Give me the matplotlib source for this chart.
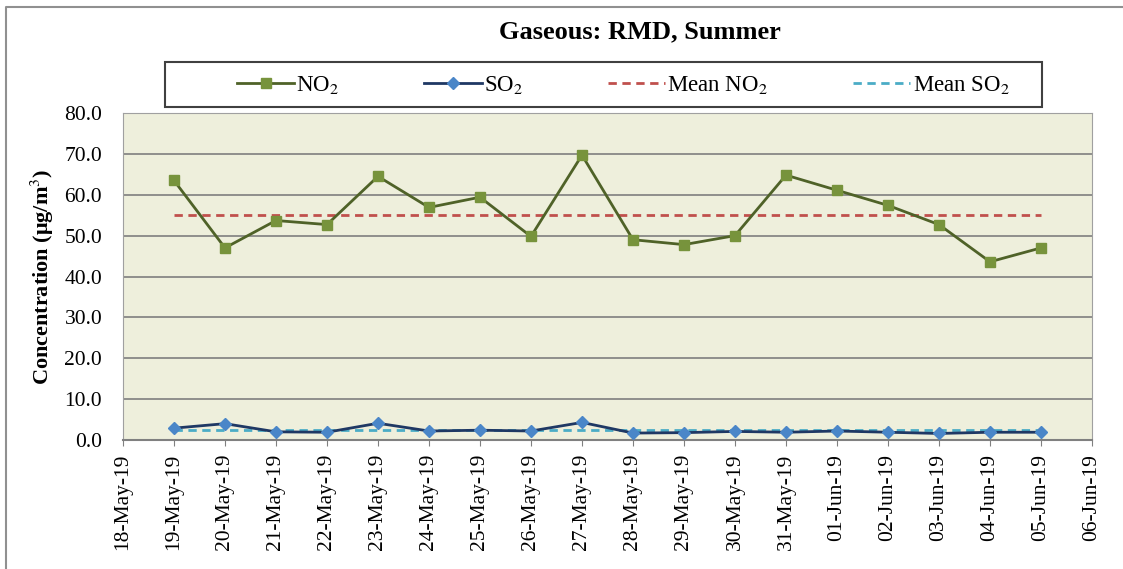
import matplotlib.pyplot as plt
from matplotlib.lines import Line2D

plt.rcParams["font.family"] = ["Liberation Serif", "DejaVu Serif"]
plt.rcParams["mathtext.fontset"] = "stix"

# tick labels along the x axis (one per day, first and last have no data)
date_labels = ["18-May-19", "19-May-19", "20-May-19", "21-May-19", "22-May-19",
               "23-May-19", "24-May-19", "25-May-19", "26-May-19", "27-May-19",
               "28-May-19", "29-May-19", "30-May-19", "31-May-19", "01-Jun-19",
               "02-Jun-19", "03-Jun-19", "04-Jun-19", "05-Jun-19", "06-Jun-19"]

# measured days are 19-May .. 05-Jun
day_index = list(range(1, 19))

no2 = [63.5, 47.0, 53.7, 52.7, 64.5, 56.9, 59.4, 49.8, 69.7,
       49.0, 47.8, 50.0, 64.8, 61.1, 57.4, 52.7, 43.6, 47.0]
so2 = [2.9, 4.0, 2.0, 1.9, 4.1, 2.2, 2.4, 2.2, 4.3,
       1.7, 1.8, 2.1, 1.9, 2.2, 1.9, 1.6, 1.9, 1.9]

mean_no2 = sum(no2) / len(no2)
mean_so2 = sum(so2) / len(so2)

fig = plt.figure(figsize=(11.23, 5.69), dpi=100)
ax = fig.add_axes([0.1095, 0.2267, 0.8629, 0.5747])
ax.set_facecolor("#EEEFDC")

ax.plot(day_index, no2, color="#4F6228", lw=2, marker="s", ms=7,
        mfc="#77933C", mec="#77933C", zorder=4)
ax.plot(day_index, so2, color="#1F3864", lw=2, marker="D", ms=6,
        mfc="#4A86C8", mec="#4A86C8", zorder=4)
ax.plot(day_index, [mean_no2] * len(day_index), color="#C0504D", lw=2,
        ls=(0, (3, 2)), zorder=3)
ax.plot(day_index, [mean_so2] * len(day_index), color="#4BACC6", lw=2,
        ls=(0, (3, 2)), zorder=3)

ax.set_xlim(0, 19)
ax.set_ylim(0, 80)
ax.set_yticks(range(0, 81, 10))
ax.set_yticklabels([f"{v:.1f}" for v in range(0, 81, 10)], fontsize=15.5)
ax.set_xticks(range(len(date_labels)))
ax.set_xticklabels(date_labels, rotation=90, fontsize=15.5)
ax.tick_params(axis="y", length=0, pad=15)
ax.tick_params(axis="x", length=4, direction="out", pad=6, color="#808080")

ax.grid(axis="y", color="#7F7F7F", lw=1.2)
ax.set_axisbelow(True)
for side in ["top", "right", "left"]:
    ax.spines[side].set_color("#A0A0A0")
ax.spines["bottom"].set_color("#808080")
ax.spines["bottom"].set_linewidth(1.5)

ax.set_ylabel("Concentration (μg/m$^3$)", fontsize=16, fontweight="bold", labelpad=6)

fig.text(0.57, 0.944, "Gaseous: RMD, Summer", ha="center", va="center",
         fontsize=19, fontweight="bold")

handles = [
    Line2D([], [], color="#4F6228", lw=2, marker="s", ms=7, mfc="#77933C", mec="#77933C"),
    Line2D([], [], color="#1F3864", lw=2, marker="D", ms=6, mfc="#4A86C8", mec="#4A86C8"),
    Line2D([], [], color="#C0504D", lw=2, ls=(0, (3, 2))),
    Line2D([], [], color="#4BACC6", lw=2, ls=(0, (3, 2))),
]
labels = ["NO$_2$", "SO$_2$", "Mean NO$_2$", "Mean SO$_2$"]
leg = fig.legend(handles, labels, loc="center", ncol=4, fontsize=16.5,
                 bbox_to_anchor=(0.555, 0.851), frameon=False,
                 handlelength=2.5, handletextpad=0.1, columnspacing=3.7)

# legend box drawn separately so it spans like the original
fig.patches.append(plt.Rectangle((0.147, 0.812), 0.781, 0.079, transform=fig.transFigure,
                                 fill=False, edgecolor="#404040", lw=1.5))

# outer chart border (left and top edges)
fig.lines.append(Line2D([0.005, 0.005, 0.999], [0.0, 0.988, 0.988],
                        transform=fig.transFigure, color="#909090", lw=1.5))

fig.savefig("out.png", dpi=100)
